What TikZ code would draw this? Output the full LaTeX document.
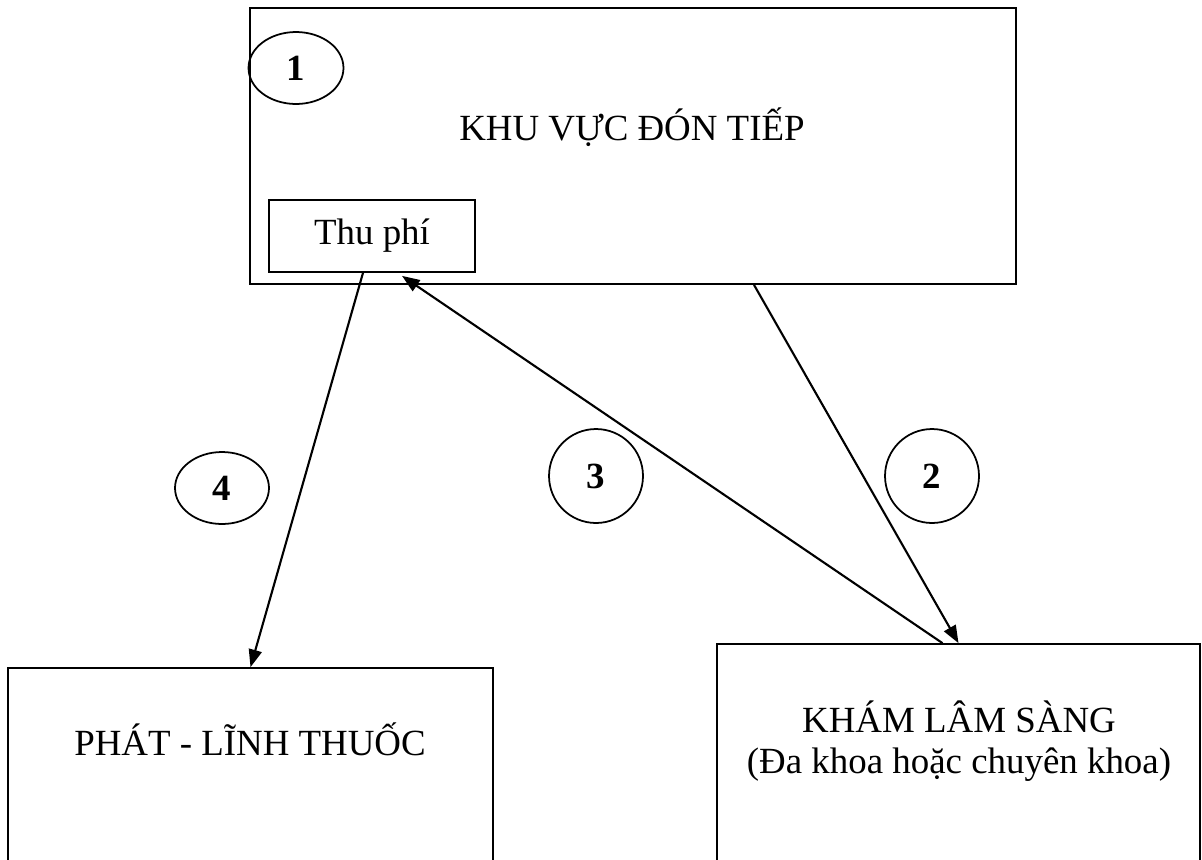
\documentclass[tikz,border=0pt]{standalone}
\usepackage{fontspec}
\setmainfont{Liberation Serif}
\usepackage{tikz}
\usetikzlibrary{arrows.meta,shapes.geometric,positioning}

\begin{document}
\begin{tikzpicture}[x=0.02cm,y=-0.02cm,line width=1pt,
  >={Triangle[length=10pt,width=7.5pt]},
  box/.style={draw,rectangle,inner sep=0pt},
  txt/.style={font=\fontsize{21}{23.5}\selectfont,align=center},
  num/.style={draw,ellipse,inner sep=0pt,font=\fontsize{21}{24}\selectfont\bfseries},
  link/.style={->,line width=1.2pt}]
\useasboundingbox (0,0) rectangle (1202,859);
\clip (0,0) rectangle (1202,859);
\node[box,minimum width=15.32cm,minimum height=5.52cm] (khu) at (633,146) {};
\node[box,txt,minimum width=4.12cm,minimum height=1.44cm] (thu) at (372,236) {Thu phí};
\node[box,minimum width=9.7cm,minimum height=4.64cm] (phat) at (250.5,784) {};
\node[box,minimum width=9.66cm,minimum height=5.12cm] (kham) at (958.5,772) {};
\node[txt,anchor=base] (khutxt) at (632,140) {KHU VỰC ĐÓN TIẾP};
\node[txt,anchor=base] (phattxt) at (250,755) {PHÁT - LĨNH THUỐC};
\node[txt] (khamtxt) at (959,741) {KHÁM LÂM SÀNG\\(Đa khoa hoặc chuyên khoa)};
\node[num,minimum width=1.9cm,minimum height=1.44cm] (n1) at (296,68) {1};
\node[num,minimum size=1.88cm] (n2) at (932,476) {2};
\node[num,minimum size=1.88cm] (n3) at (596,476) {3};
\node[num,minimum width=1.88cm,minimum height=1.44cm] (n4) at (222,488) {4};
\draw[link] ([shift={(-9,0)}]thu.south) -- (phat.north);
\draw[link] ([shift={(121,0)}]khu.south) -- (kham.north);
\draw[link] ([shift={(-16,0)}]kham.north) -- ([shift={(30,3)}]thu.south);
\end{tikzpicture}
\end{document}
